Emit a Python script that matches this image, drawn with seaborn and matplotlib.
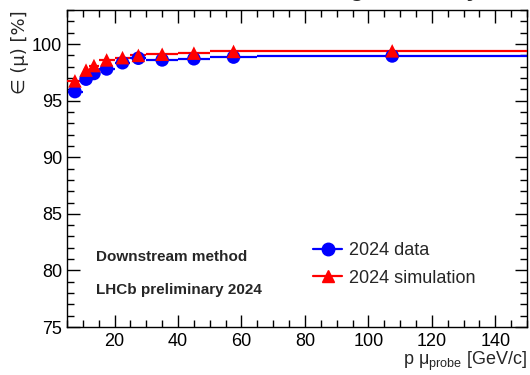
import numpy as np
import pandas as pd
import matplotlib
matplotlib.use("Agg")
import matplotlib.pyplot as plt
import seaborn as sns
from matplotlib.lines import Line2D
from matplotlib.ticker import MultipleLocator

# Bins (GeV/c)
bin_lo = [5, 10, 12, 15, 20, 25, 30, 40, 50, 65]
bin_hi = [10, 12, 15, 20, 25, 30, 40, 50, 65, 150]
bin_center = [7.5, 11, 13.5, 17.5, 22.5, 27.5, 35, 45, 57.5, 107.5]

eff_data = [95.8, 96.9, 97.4, 97.8, 98.35, 98.75, 98.6, 98.7, 98.85, 98.95]
err_data = [0.35, 0.2, 0.15, 0.12, 0.1, 0.08, 0.07, 0.07, 0.06, 0.05]
eff_sim = [96.75, 97.7, 98.1, 98.6, 98.8, 99.0, 99.1, 99.2, 99.35, 99.4]
err_sim = [0.15, 0.1, 0.08, 0.06, 0.05, 0.04, 0.04, 0.04, 0.03, 0.03]

series_labels = ["2024 data", "2024 simulation"]

sns.set_theme(style="ticks")
plt.rcParams['font.family'] = ['Liberation Sans', 'DejaVu Sans']

fig = plt.figure(figsize=(5.30, 3.75), dpi=100)
ax = fig.add_axes([0.1264, 0.128, 0.868, 0.845])

lo = np.array(bin_lo); hi = np.array(bin_hi); c = np.array(bin_center)
xerr = [c - lo, hi - c]

df = pd.DataFrame({
    "p": bin_center * 2,
    "eff": eff_data + eff_sim,
    "series": [series_labels[0]] * len(eff_data) + [series_labels[1]] * len(eff_sim),
})

colors = {series_labels[0]: "#0000ff", series_labels[1]: "#ff0000"}
markers = {series_labels[0]: "o", series_labels[1]: "^"}

ax.errorbar(c, eff_data, xerr=xerr, yerr=err_data, fmt="none",
            ecolor="#0000ff", elinewidth=1.6, capsize=0, zorder=2)
ax.errorbar(c, eff_sim, xerr=xerr, yerr=err_sim, fmt="none",
            ecolor="#ff0000", elinewidth=1.6, capsize=0, zorder=3)
sns.scatterplot(data=df, x="p", y="eff", hue="series", style="series",
                palette=colors, markers=markers, s=95, edgecolor="none",
                legend=False, ax=ax, zorder=4)

ax.set_xlim(5, 150)
ax.set_ylim(75, 103)
ax.xaxis.set_major_locator(MultipleLocator(20))
ax.xaxis.set_minor_locator(MultipleLocator(5))
ax.yaxis.set_major_locator(MultipleLocator(5))
ax.yaxis.set_minor_locator(MultipleLocator(1))
ax.tick_params(which="both", direction="in", top=True, right=True,
               labelsize=13, colors="black", width=1.0)
ax.tick_params(which="major", length=9)
ax.tick_params(which="minor", length=5)
ax.tick_params(axis="x", pad=4)
for s in ax.spines.values():
    s.set_color("black")
    s.set_linewidth(1.0)

ax.set_xlabel(r"p μ$_{\mathregular{probe}}$ [GeV/c]", fontsize=13, loc="right", labelpad=0)
ax.set_ylabel("∈ (μ) [%]", fontsize=13, loc="top", labelpad=2,
              family=['DejaVu Sans'])

ax.text(0.062, 0.221, "Downstream method", transform=ax.transAxes,
        fontsize=11, fontweight="bold", va="center")
ax.text(0.062, 0.117, "LHCb preliminary 2024", transform=ax.transAxes,
        fontsize=11, fontweight="bold", va="center")

handles = [Line2D([0], [0], color="#0000ff", marker="o", markersize=9, lw=1.6),
           Line2D([0], [0], color="#ff0000", marker="^", markersize=9, lw=1.6)]
ax.legend(handles, series_labels, loc="upper left", bbox_to_anchor=(0.5, 0.32),
          frameon=False, fontsize=13, handlelength=1.6, handletextpad=0.4,
          labelspacing=0.6)

fig.text(0.705, 1.011, "Tracking efficiency", fontsize=17, fontweight="bold",
         ha="center", va="baseline")

fig.savefig("out.png", dpi=100)
